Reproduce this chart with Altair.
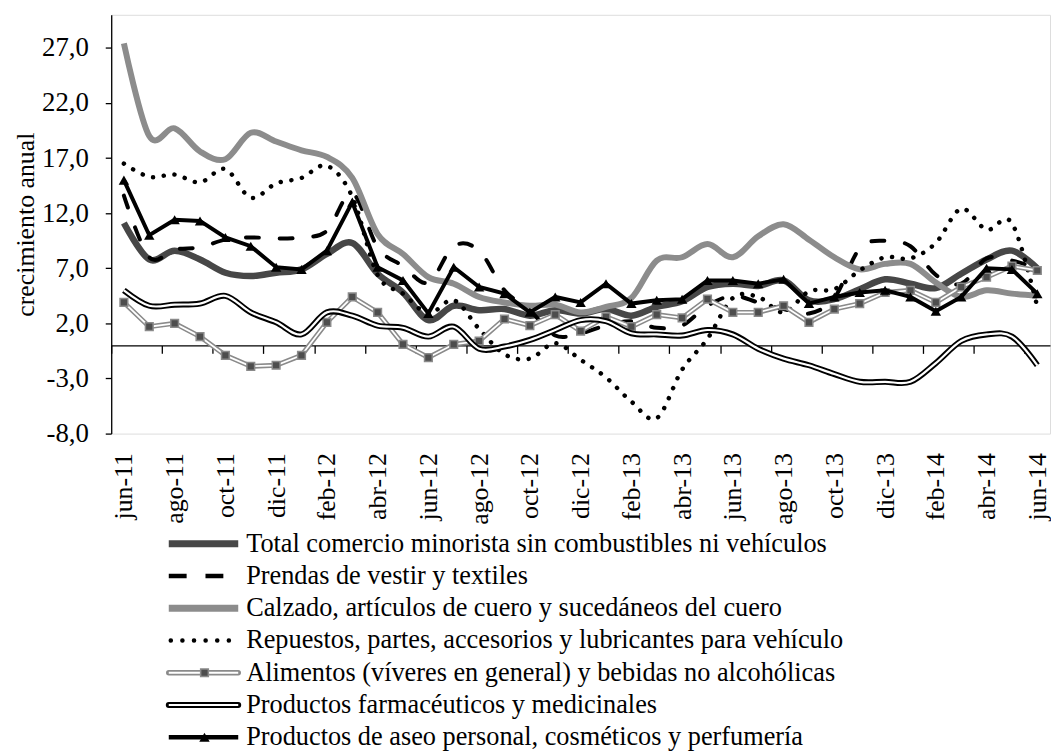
import altair as alt
import pandas as pd

meses = ["jun-11", "jul-11", "ago-11", "sep-11", "oct-11", "nov-11", "dic-11", "ene-12",
         "feb-12", "mar-12", "abr-12", "may-12", "jun-12", "jul-12", "ago-12", "sep-12",
         "oct-12", "nov-12", "dic-12", "ene-13", "feb-13", "mar-13", "abr-13", "may-13",
         "jun-13", "jul-13", "ago-13", "sep-13", "oct-13", "nov-13", "dic-13", "ene-14",
         "feb-14", "mar-14", "abr-14", "may-14", "jun-14"]

total = [11.1, 7.8, 8.6, 7.8, 6.6, 6.3, 6.6, 6.9, 8.3, 9.3, 6.5, 4.8, 2.3, 3.6, 3.2, 3.3,
         2.7, 3.2, 2.9, 3.3, 2.7, 3.5, 4.0, 5.3, 5.6, 5.4, 5.9, 4.1, 4.2, 5.1, 6.0, 5.6,
         5.2, 6.5, 7.8, 8.6, 7.0]
prendas = [13.6, 8.0, 8.7, 8.9, 9.6, 9.8, 9.7, 9.8, 10.4, 13.8, 8.9, 7.2, 5.7, 9.0, 8.6, 5.0,
           3.2, 0.9, 1.1, 1.8, 2.2, 1.6, 1.8, 3.6, 4.5, 3.9, 3.3, 2.9, 4.3, 8.8, 9.5, 9.0,
           6.4, 5.6, 7.9, 7.7, 7.0]
calzado = [27.4, 19.0, 19.7, 17.6, 16.9, 19.3, 18.5, 17.7, 17.1, 15.2, 10.1, 8.3, 6.2, 5.6,
           4.4, 3.9, 3.6, 3.7, 3.0, 3.5, 4.3, 7.7, 8.0, 9.2, 8.0, 9.9, 11.0, 9.6, 8.0, 6.9,
           7.4, 7.4, 5.7, 4.4, 5.0, 4.7, 4.5]
repuestos = [16.5, 15.3, 15.5, 14.8, 16.0, 13.4, 14.7, 15.2, 16.3, 13.5, 6.4, 4.7, 2.9, 4.1,
             1.5, -0.8, -1.2, 0.2, -1.3, -2.9, -5.1, -6.6, -2.2, 0.6, 4.3, 4.4, 3.0, 4.9,
             5.1, 6.8, 8.0, 7.9, 9.3, 12.4, 10.5, 11.1, 3.5]
alimentos = [3.9, 1.7, 2.0, 0.8, -0.9, -1.9, -1.8, -0.9, 2.1, 4.4, 3.0, 0.1, -1.1, 0.1, 0.4,
             2.4, 1.8, 2.8, 1.3, 2.6, 1.7, 2.8, 2.5, 4.2, 3.0, 3.0, 3.6, 2.1, 3.3, 3.8, 4.8,
             5.0, 3.9, 5.3, 6.2, 7.2, 6.8]
farmaceuticos = [5.0, 3.6, 3.7, 3.8, 4.5, 3.0, 2.1, 1.0, 3.0, 2.7, 1.8, 1.6, 0.8, 1.7, -0.3,
                 -0.1, 0.5, 1.4, 2.3, 2.2, 1.1, 1.0, 0.9, 1.4, 1.0, -0.3, -1.2, -1.8, -2.6,
                 -3.3, -3.3, -3.3, -1.6, 0.4, 1.0, 0.8, -1.8]
aseo = [15.0, 10.0, 11.4, 11.3, 9.8, 9.0, 7.1, 6.9, 8.6, 13.0, 7.1, 5.9, 2.9, 7.1, 5.3, 4.7,
        3.0, 4.4, 3.9, 5.6, 3.8, 4.1, 4.2, 5.9, 5.9, 5.6, 6.0, 3.8, 4.4, 4.8, 5.0, 4.4, 3.1,
        4.4, 7.0, 6.9, 4.7]

series = [
    "Total comercio minorista sin combustibles ni vehículos",
    "Prendas de vestir y textiles",
    "Calzado, artículos de cuero y sucedáneos del cuero",
    "Repuestos, partes, accesorios y lubricantes para vehículo",
    "Alimentos (víveres en general) y bebidas no alcohólicas",
    "Productos farmacéuticos y medicinales",
    "Productos de aseo personal, cosméticos y perfumería",
]
valores = [total, prendas, calzado, repuestos, alimentos, farmaceuticos, aseo]

y_ticks = [-8, -3, 2, 7, 12, 17, 22, 27]
y_dom = [-8, 30]

rows = []
for nombre, vals in zip(series, valores):
    for m, v in zip(meses, vals):
        rows.append({"mes": m, "serie": nombre, "valor": v})
df = pd.DataFrame(rows)
leg_df = pd.DataFrame({"serie": series})

FONT = "Liberation Serif"
W, H = 946, 422
band = W / len(meses)
zero_offset = -H * (0 - y_dom[0]) / (y_dom[1] - y_dom[0])

x_enc = alt.X(
    "mes:O", sort=meses, bandPosition=0.5,
    scale=alt.Scale(type="band", domain=meses, paddingInner=0, paddingOuter=0),
    axis=alt.Axis(values=meses[::2], title=None, labelAngle=-90, labelFont=FONT,
                  labelFontSize=26, labelColor="black", labelPadding=100,
                  labelOverlap=False, tickOffset=-band / 2, labelOffset=band / 2,
                  offset=zero_offset, tickSize=8, tickColor="black", tickWidth=1.3,
                  domainColor="black", domainWidth=1.3, grid=False),
)
y_enc = alt.Y(
    "valor:Q",
    scale=alt.Scale(domain=y_dom, nice=False, zero=False),
    axis=alt.Axis(values=y_ticks, title="crecimiento anual",
                  labelExpr="replace(replace(format(datum.value, '.1f'), '.', ','), '\u2212', '-')",
                  labelFont=FONT, labelFontSize=27, labelColor="black", labelPadding=17,
                  titleFont=FONT, titleFontSize=26, titleFontWeight="normal",
                  titleColor="black", titlePadding=3, tickSize=6, tickColor="black",
                  tickWidth=1.3, domainColor="black", domainWidth=1.3, grid=False),
)

base = alt.Chart(df).encode(x=x_enc, y=y_enc)


def sel(chart, k):
    return chart.transform_filter(alt.FieldEqualPredicate(field="serie", equal=series[k]))


layers = [
    sel(base, 0).mark_line(color="#474747", strokeWidth=6.5, interpolate="cardinal"),
    sel(base, 1).mark_line(color="black", strokeWidth=4, strokeDash=[13, 21],
                           strokeCap="round", interpolate="cardinal"),
    sel(base, 2).mark_line(color="#8c8c8c", strokeWidth=6, interpolate="cardinal"),
    sel(base, 3).mark_line(color="black", strokeWidth=4.5, strokeDash=[0.1, 10.8],
                           strokeCap="round", interpolate="cardinal"),
    sel(base, 4).mark_line(color="#8a8a8a", strokeWidth=5),
    sel(base, 4).mark_line(color="white", strokeWidth=1.8),
    sel(base, 4).mark_point(shape="square", size=60, filled=True, fill="#4d4d4d",
                            stroke="#8a8a8a", strokeWidth=1.5, opacity=1),
    sel(base, 5).mark_line(color="black", strokeWidth=6, interpolate="cardinal"),
    sel(base, 5).mark_line(color="white", strokeWidth=2.2, interpolate="cardinal"),
    sel(base, 6).mark_line(color="black", strokeWidth=4),
    sel(base, 6).mark_point(shape="triangle-up", size=110, filled=True, color="black",
                            opacity=1),
]
main = alt.layer(*layers)

# legend built from the series names through a point scale
y_leg = alt.Y("serie:N", sort=series, axis=None,
              scale=alt.Scale(type="point", domain=series, range=[533, 728], padding=0))
lbase = alt.Chart(leg_df).encode(y=y_leg)
X0, X1, XM, XT = 58, 128, 94, 136


def lsel(k):
    return lbase.transform_filter(alt.FieldEqualPredicate(field="serie", equal=series[k]))


def seg(k, **kw):
    return lsel(k).mark_rule(**kw).encode(x=alt.value(X0), x2=alt.value(X1))


leg_layers = [
    seg(0, color="#474747", strokeWidth=7),
    seg(1, color="black", strokeWidth=4.5, strokeDash=[18, 19]),
    seg(2, color="#8c8c8c", strokeWidth=7),
    lsel(3).mark_rule(color="black", strokeWidth=4.5, strokeDash=[0.1, 11.6],
                      strokeCap="round").encode(x=alt.value(X0 + 2), x2=alt.value(X1 - 2)),
    seg(4, color="#8a8a8a", strokeWidth=5.5, strokeCap="round"),
    seg(4, color="white", strokeWidth=2),
    lsel(4).mark_point(shape="square", size=60, filled=True, fill="#4d4d4d",
                       stroke="#8a8a8a", strokeWidth=1.5, opacity=1).encode(x=alt.value(XM)),
    seg(5, color="black", strokeWidth=6, strokeCap="round"),
    seg(5, color="white", strokeWidth=2.2),
    seg(6, color="black", strokeWidth=4.5),
    lsel(6).mark_point(shape="triangle-up", size=110, filled=True, color="black",
                       opacity=1).encode(x=alt.value(XM)),
    lbase.mark_text(align="left", baseline="middle", font=FONT, fontSize=26.5,
                    color="black").encode(x=alt.value(XT), text="serie:N"),
]
legend = alt.layer(*leg_layers)

chart = alt.layer(main, legend).resolve_scale(y="independent").properties(
    width=W, height=H,
    autosize=alt.AutoSizeParams(type="none"),
    padding={"left": 104, "top": 4, "right": 1, "bottom": 320},
).configure_view(stroke=None).configure(background="white")

chart.save("out.html", embed_options={"renderer": "svg", "actions": False})
